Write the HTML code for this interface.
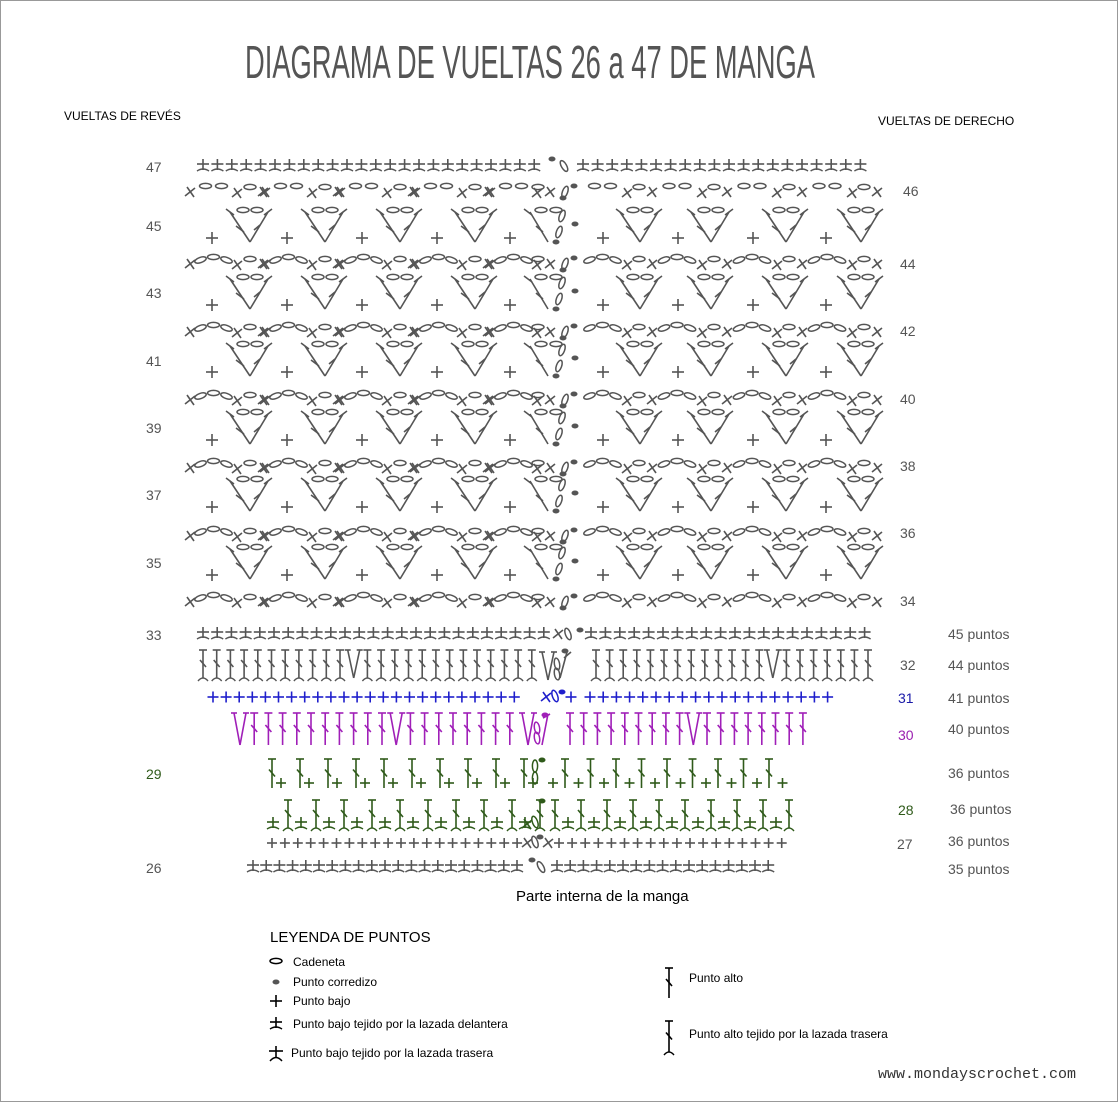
<!DOCTYPE html>
<html><head><meta charset="utf-8">
<style>
html,body{margin:0;padding:0;background:#fff;}
body{width:1118px;height:1102px;overflow:hidden;position:relative;font-family:"Liberation Sans",sans-serif;}
svg{position:absolute;left:0;top:0;}
</style></head>
<body>
<svg id="s" width="1118" height="1102" viewBox="0 0 1118 1102" xmlns="http://www.w3.org/2000/svg">
<rect x="0.5" y="0.5" width="1117" height="1101" fill="#fff" stroke="#999" stroke-width="1"/>
<text x="530" y="78" text-anchor="middle" font-family="'Liberation Sans Narrow','Liberation Sans',sans-serif" font-size="46" fill="#555" textLength="570" lengthAdjust="spacingAndGlyphs">DIAGRAMA DE VUELTAS 26 a 47 DE MANGA</text>
<text x="64" y="120" font-size="12" fill="#000">VUELTAS DE REVÉS</text>
<text x="878" y="125" font-size="12" fill="#000">VUELTAS DE DERECHO</text>
<g font-size="14" fill="#555">
<text x="146" y="172">47</text><text x="903" y="196">46</text>
<text x="146" y="231">45</text><text x="900" y="269">44</text>
<text x="146" y="298">43</text><text x="900" y="336">42</text>
<text x="146" y="366">41</text><text x="900" y="404">40</text>
<text x="146" y="433">39</text><text x="900" y="471">38</text>
<text x="146" y="500">37</text><text x="900" y="538">36</text>
<text x="146" y="568">35</text><text x="900" y="606">34</text>
<text x="146" y="640">33</text><text x="900" y="670">32</text>
<text x="146" y="873">26</text><text x="897" y="849">27</text>
<text x="948" y="639">45 puntos</text><text x="948" y="670">44 puntos</text>
<text x="948" y="703">41 puntos</text><text x="948" y="734">40 puntos</text>
<text x="948" y="778">36 puntos</text><text x="950" y="814">36 puntos</text>
<text x="948" y="846">36 puntos</text><text x="948" y="874">35 puntos</text>
</g>
<text x="898" y="703" font-size="14" fill="#1a1aa8">31</text>
<text x="898" y="740" font-size="14" fill="#9a1fb0">30</text>
<text x="146" y="779" font-size="14" fill="#2f5a1a">29</text>
<text x="898" y="815" font-size="14" fill="#2f5a1a">28</text>
<text x="516" y="901" font-size="15" fill="#000">Parte interna de la manga</text>
<text x="270" y="942" font-size="15" fill="#000">LEYENDA DE PUNTOS</text>
<g font-size="12" fill="#000">
<text x="293" y="966">Cadeneta</text>
<text x="293" y="986">Punto corredizo</text>
<text x="293" y="1005">Punto bajo</text>
<text x="293" y="1028">Punto bajo tejido por la lazada delantera</text>
<text x="291" y="1057">Punto bajo tejido por la lazada trasera</text>
<text x="689" y="982">Punto alto</text>
<text x="689" y="1038">Punto alto tejido por la lazada trasera</text>
</g>
<text x="878" y="1078" font-family="'Liberation Mono',monospace" font-size="15" fill="#333">www.mondayscrochet.com</text>
<g id="g"></g>
</svg>
<script>
var g=document.getElementById('g'),out='';
function L(x1,y1,x2,y2,c,w){out+='<line x1="'+x1+'" y1="'+y1+'" x2="'+x2+'" y2="'+y2+'" stroke="'+c+'" stroke-width="'+(w||1.6)+'"/>';}
function plus(x,y,c,s){s=s||5;L(x-s,y,x+s,y,c);L(x,y-s,x,y+s,c);}
function bpd(x,y,c){L(x-6,y-2,x+6,y-2,c);L(x,y-7,x,y+4,c);out+='<path d="M'+(x-6)+' '+(y+5)+' Q'+x+' '+(y+1)+' '+(x+6)+' '+(y+5)+'" stroke="'+c+'" fill="none" stroke-width="1.4"/>';}
function cross(x,y,c){L(x-5,y+4,x+5,y-4,c);L(x-3,y-5,x+4,y+5,c);}
function oval(x,y,rot,c){out+='<ellipse cx="'+x+'" cy="'+y+'" rx="6" ry="2.6" transform="rotate('+(rot||0)+' '+x+' '+y+')" fill="none" stroke="'+c+'" stroke-width="1.5"/>';}
function dot(x,y,c){out+='<ellipse cx="'+x+'" cy="'+y+'" rx="3.5" ry="2.5" fill="'+c+'"/>';}
function alto(x,yt,yb,c){L(x,yt,x,yb,c);L(x-4,yt,x+4,yt,c);L(x-3,(yt+yb)/2-4,x+3,(yt+yb)/2+3,c);}
function altoT(x,yt,yb,c){alto(x,yt,yb,c);out+='<path d="M'+(x-5)+' '+(yb+3)+' Q'+x+' '+(yb-3)+' '+(x+5)+' '+(yb+3)+'" stroke="'+c+'" fill="none" stroke-width="1.4"/>';}
function vee(x,yt,yb,c){L(x-6,yt,x,yb,c);L(x+6,yt,x,yb,c);L(x-9,yt,x-3,yt,c);L(x+3,yt,x+9,yt,c);}
var gr='#555';
// row 47
for(var x=203;x<=548;x+=14.4)bpd(x,166,gr);
for(var x=583;x<=875;x+=14.6)bpd(x,166,gr);
dot(552,159,gr);oval(564,166,60,gr);
// chain rows
var cr=[190,262,330,398,466,534,600];
cr.forEach(function(y,i){
 var arc=i>0;
 function seg(a,b){ // chains between a and b
  var m=(a+b)/2;
  if(arc){oval(m-13,y-2,-20,gr);oval(m,y-5,0,gr);oval(m+13,y-2,20,gr);}else{oval(m-8,y-4,0,gr);oval(m+8,y-4,0,gr);}
 }
 for(var k=0;k<5;k++){var b=190+k*75;
  cross(b,y+2,gr);seg(b,b+47);cross(b+47,y+3,gr);
  if(k<4){oval(b+60,y-3,0,gr);cross(b+73,y+2,gr);}
 }
 oval(538,y-3,0,gr);cross(550,y+2,gr);oval(565,y+2,-70,gr);dot(563,y+8,gr);dot(574,y-4,gr);
 seg(578,627);
 for(var k=0;k<4;k++){var b=627+k*75;cross(b,y+3,gr);oval(b+12,y-3,0,gr);cross(b+25,y+2,gr);
  if(k<3)seg(b+25,b+75);}
});
// fan rows
[228,295,362,430,497,565].forEach(function(y){
 var yt=y-16,yb=y+14;
 function fan(cx){L(cx,yb,cx-20,yt,gr);L(cx,yb,cx+18,yt,gr);L(cx-24,yt-3,cx-16,yt+3,gr);L(cx+14,yt+3,cx+22,yt-3,gr);
  L(cx-14,y-2,cx-6,y+4,gr);L(cx+4,y+2,cx+10,y-3,gr);oval(cx-7,yt-2,0,gr);oval(cx+7,yt-2,0,gr);}
 [212,287,362,437,510,603,678,753,826].forEach(function(px){plus(px,y+10,gr,6);});
 [250,325,400,475,640,711,786,861].forEach(fan);
 L(548,yb,530,yt,gr);L(524,yt-3,532,yt+3,gr);L(536,y-2,543,y+4,gr);oval(541,yt-2,0,gr);oval(556,yt-2,0,gr);
 oval(562,yt+4,-70,gr);oval(559,y+4,-70,gr);dot(556,yb,gr);dot(575,y-4,gr);
});
// row 33
for(var x=203;x<=545;x+=14.2)bpd(x,634,gr);
for(var x=591;x<=878;x+=14.4)bpd(x,634,gr);
cross(558,634,gr);oval(568,634,70,gr);dot(580,630,gr);
// row 32
for(var i=0;i<25;i++){var x=203+i*13.7;if(i==11)vee(x,650,678,gr);else altoT(x,650,678,gr);}
vee(548,652,680,gr);oval(557,664,80,gr);oval(557,674,80,gr);dot(565,651,gr);L(564,658,571,652,gr);L(567,652,560,678,gr);
for(var i=0;i<21;i++){var x=596+i*13.6;if(i==13)vee(x,650,678,gr);else altoT(x,650,678,gr);}
// row 31 blue
var bl='#1f1fcc';
for(var i=0;i<24;i++)plus(213+i*13.1,697,bl,5.5);
cross(546,697,bl);oval(555,696,70,bl);dot(562,692,bl);plus(571,697,bl,5.5);
for(var i=0;i<19;i++)plus(590+i*13.2,697,bl,5.5);
// row 30 purple
var pu='#a01fb8';
for(var i=0;i<20;i++){var x=240+i*14.2;if(i==0||i==11)vee(x,713,745,pu);else alto(x,713,745,pu);}
vee(528,713,745,pu);oval(537,728,80,pu);oval(537,738,80,pu);dot(545,715,pu);L(543,718,550,714,pu);L(548,714,542,745,pu);
for(var i=0;i<18;i++){var x=570+i*13.7;if(i==9)vee(x,713,745,pu);else alto(x,713,745,pu);}
// row 29 green
var gn='#2f5a1a';
for(var i=0;i<10;i++){var x=272+i*28;alto(x,759,788,gn);plus(x+9,783,gn,5);}
oval(535,766,90,gn);oval(535,778,90,gn);dot(542,760,gn);
for(var i=0;i<10;i++){var x=553+i*25.5;plus(x,783,gn,5);if(i<9)alto(x+12,759,788,gn);}
// row 28
for(var i=0;i<10;i++){var x=288+i*28;altoT(x,800,828,gn);bpd(x-15,824,gn);}
cross(527,824,gn);oval(535,822,70,gn);dot(542,801,gn);
for(var i=0;i<10;i++){var x=555+i*26;altoT(x,800,828,gn);if(i<9)bpd(x+13,824,gn);}
// row 27
for(var i=0;i<20;i++)plus(272+i*12.9,843,gr,5);
cross(527,843,gr);oval(535,842,70,gr);dot(540,837,gr);cross(548,843,gr);
for(var i=0;i<18;i++)plus(559+i*13.1,843,gr,5);
// row 26
for(var i=0;i<21;i++)bpd(253+i*13.2,867,gr);
dot(532,860,gr);oval(541,867,60,gr);
for(var i=0;i<17;i++)bpd(557+i*13.2,867,gr);
// legend symbols
oval(276,961,0,'#000');dot(276,982,'#555');plus(276,1001,'#000',6);bpd(276,1024,'#000');
L(269,1051,283,1051,'#000');L(276,1046,276,1058,'#000');out+='<path d="M270 1061 Q276 1054 282 1061" stroke="#000" fill="none" stroke-width="1.4"/>';
alto(669,968,998,'#000');altoT(669,1021,1052,'#000');
g.innerHTML=out;
</script>
</body></html>
